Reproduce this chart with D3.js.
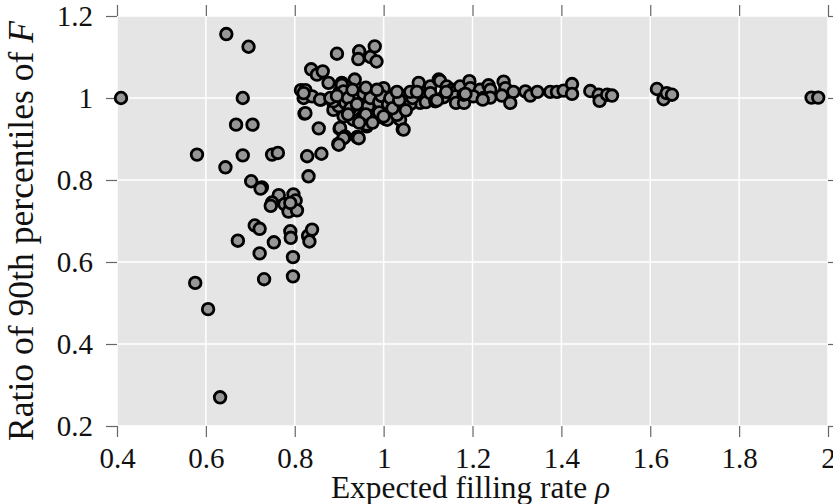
<!DOCTYPE html>
<html>
<head>
<meta charset="utf-8">
<script src="https://cdn.jsdelivr.net/npm/d3@7"></script>
<style>
  body { margin: 0; background: #fff; }
  svg { display: block; }
  text { font-family: "Liberation Serif", "DejaVu Serif", serif; fill: #111; }
</style>
</head>
<body>
<svg id="chart"></svg>
<script>
// expected filling rate rho vs ratio of 90th percentiles of F
const samples = [
  [0.409, 1.000], [0.646, 1.156], [0.696, 1.125], [0.683, 1.000], [0.668, 0.935],
  [0.705, 0.935], [0.580, 0.862], [0.683, 0.860], [0.644, 0.831], [0.749, 0.862],
  [0.762, 0.866], [0.702, 0.797], [0.726, 0.782], [0.723, 0.779], [0.764, 0.763],
  [0.797, 0.765], [0.749, 0.745], [0.746, 0.737], [0.777, 0.741], [0.802, 0.750],
  [0.786, 0.723], [0.805, 0.726], [0.790, 0.744], [0.710, 0.689], [0.721, 0.681],
  [0.672, 0.652], [0.753, 0.648], [0.790, 0.675], [0.791, 0.659], [0.830, 0.664],
  [0.839, 0.679], [0.833, 0.650], [0.721, 0.621], [0.796, 0.612], [0.731, 0.558],
  [0.796, 0.565], [0.576, 0.549], [0.605, 0.485], [0.632, 0.270], [0.828, 0.858],
  [0.860, 0.864], [0.831, 0.809], [0.822, 0.962], [0.854, 0.926], [0.895, 1.108],
  [0.945, 1.114], [0.943, 1.095], [0.970, 1.100], [0.980, 1.126], [0.984, 1.089],
  [0.837, 1.070], [0.850, 1.057], [0.863, 1.065], [0.876, 1.037], [0.814, 1.019],
  [0.824, 1.019], [0.820, 1.000], [0.839, 1.004], [0.859, 0.996], [0.935, 1.045],
  [0.906, 1.037], [0.902, 1.016], [0.917, 1.027], [0.898, 0.888], [0.910, 0.905],
  [0.941, 0.905], [0.901, 0.925], [1.043, 0.924],
  // dense core around rho = 1
  [0.887, 0.988], [0.910, 0.988], [0.932, 0.996], [0.951, 0.996], [0.977, 1.012],
  [0.977, 0.988], [1.000, 0.971], [1.026, 0.988], [1.053, 0.996], [1.075, 1.016],
  [1.082, 0.988], [1.105, 1.012], [1.116, 0.992], [0.910, 0.955], [0.932, 0.947],
  [0.955, 0.963], [0.981, 0.951], [1.004, 0.949], [1.026, 0.962], [1.037, 0.947],
  [0.902, 0.927], [0.913, 0.906], [0.941, 0.904], [0.962, 0.931], [0.887, 0.971],
  [0.899, 0.980], [0.820, 1.012], [0.857, 0.996], [0.887, 0.992], [0.906, 1.032],
  [0.910, 1.016], [0.914, 0.988], [0.936, 0.996], [0.932, 0.971], [0.962, 0.935],
  [0.977, 0.984], [0.981, 0.955], [1.000, 1.024], [1.008, 0.947], [1.030, 0.959],
  [1.045, 1.004], [1.045, 0.923], [0.910, 0.902], [0.899, 0.886], [0.944, 0.902],
  [0.824, 0.963], [0.880, 1.000], [0.895, 1.005], [0.920, 1.000], [0.925, 0.975],
  [0.940, 0.985], [0.955, 1.010], [0.965, 0.980], [0.970, 1.000], [0.990, 0.990],
  [0.995, 1.005], [1.010, 0.985], [1.015, 1.000], [1.020, 0.975], [1.035, 0.995],
  [1.060, 0.985], [1.065, 1.000], [1.090, 1.005], [1.095, 0.990], [0.960, 0.960],
  [0.990, 0.965], [0.920, 0.960], [0.945, 0.940], [0.975, 0.940], [1.000, 0.955],
  [1.050, 0.970], [0.930, 1.020], [0.960, 1.025], [0.985, 1.020], [1.030, 1.015],
  [1.060, 1.015],
  // band to the right
  [1.079, 1.037], [1.105, 1.028], [1.124, 1.045], [1.127, 1.042], [1.142, 1.028],
  [1.154, 1.020], [1.165, 1.020], [1.172, 1.028], [1.193, 1.041], [1.195, 1.024],
  [1.217, 1.020], [1.236, 1.031], [1.240, 1.020], [1.270, 1.040], [1.274, 1.024],
  [1.292, 1.015], [1.319, 1.016], [1.330, 1.006], [1.346, 1.015], [1.375, 1.015],
  [1.390, 1.015], [1.405, 1.018], [1.424, 1.034], [1.424, 1.010], [1.465, 1.017],
  [1.484, 1.008], [1.486, 0.993], [1.503, 1.008], [1.514, 1.006], [1.105, 1.012],
  [1.116, 0.993], [1.135, 1.002], [1.161, 1.004], [1.163, 0.988], [1.181, 0.988],
  [1.180, 1.008], [1.202, 1.004], [1.225, 1.000], [1.240, 1.001], [1.266, 1.006],
  [1.285, 0.988], [1.120, 0.994], [1.075, 1.015], [1.184, 1.010], [1.223, 0.996],
  [1.141, 1.015],
  [1.615, 1.022], [1.630, 0.997], [1.637, 1.012], [1.649, 1.008],
  [1.963, 1.001], [1.978, 1.001]
];

const xTicks = [0.4, 0.6, 0.8, 1.0, 1.2, 1.4, 1.6, 1.8, 2.0];
const yTicks = [0.2, 0.4, 0.6, 0.8, 1.0, 1.2];
const xLabel = ['Expected filling rate ', 'ρ'];
const yLabel = ['Ratio of 90th percentiles of ', 'F'];

const W = 833, H = 504;
const margin = { top: 16, right: 5, bottom: 78, left: 117 };
const width = W - margin.left - margin.right;
const height = H - margin.top - margin.bottom;
const serif = '"Liberation Serif", "DejaVu Serif", serif';

const svg = d3.select('#chart').attr('width', W).attr('height', H);
const g = svg.append('g').attr('transform', `translate(${margin.left},${margin.top})`);

const x = d3.scaleLinear().domain([0.4, 2.0]).range([0, width]);
const y = d3.scaleLinear().domain([0.2, 1.2]).range([height, 0]);
const fmt = d => String(+d.toFixed(1));

// panel background
g.append('rect').attr('width', width).attr('height', height).attr('fill', '#e5e5e5');

// grid
g.append('g').selectAll('line').data(xTicks).join('line')
  .attr('x1', d => x(d)).attr('x2', d => x(d)).attr('y1', 0).attr('y2', height)
  .attr('stroke', '#fff').attr('stroke-width', 1.5);
g.append('g').selectAll('line').data(yTicks).join('line')
  .attr('y1', d => y(d)).attr('y2', d => y(d)).attr('x1', 0).attr('x2', width)
  .attr('stroke', '#fff').attr('stroke-width', 1.5);

// axes: outward ticks on all four sides, labels on left and bottom
function styleAxis(sel) {
  sel.attr('font-family', null).attr('font-size', null);
  sel.select('.domain').remove();
  sel.selectAll('.tick line').attr('stroke', '#666').attr('stroke-width', 1.2);
  sel.selectAll('.tick text')
    .style('font-family', serif)
    .style('font-size', '29px')
    .attr('fill', '#111');
}
g.append('g').attr('transform', `translate(0,${height})`)
  .call(d3.axisBottom(x).tickValues(xTicks).tickFormat(fmt).tickSize(11).tickPadding(10))
  .call(styleAxis);
g.append('g')
  .call(d3.axisLeft(y).tickValues(yTicks).tickFormat(fmt).tickSize(11).tickPadding(13))
  .call(styleAxis);
g.append('g')
  .call(d3.axisTop(x).tickValues(xTicks).tickFormat('').tickSize(11))
  .call(styleAxis);
g.append('g').attr('transform', `translate(${width},0)`)
  .call(d3.axisRight(y).tickValues(yTicks).tickFormat('').tickSize(11))
  .call(styleAxis);

// points
g.append('g').selectAll('circle').data(samples).join('circle')
  .attr('cx', d => x(d[0])).attr('cy', d => y(d[1]))
  .attr('r', 5.8)
  .attr('fill', '#969696').attr('stroke', '#000').attr('stroke-width', 2.8);

// axis titles
const xt = svg.append('text')
  .attr('x', margin.left + width / 2 - 2).attr('y', 498)
  .attr('text-anchor', 'middle').style('font-size', '27px');
xt.append('tspan').text(xLabel[0]);
xt.append('tspan').style('font-style', 'italic').text(xLabel[1]);

const yt = svg.append('text')
  .attr('transform', `translate(33,${margin.top + height / 2 + 10}) rotate(-90)`)
  .attr('text-anchor', 'middle').style('font-size', '29px');
yt.append('tspan').text(yLabel[0]);
yt.append('tspan').style('font-style', 'italic').text(yLabel[1]);

// stretch titles to the span they take in the figure
[[xt, 279], [yt, 420]].forEach(([t, target]) => {
  const len = t.node().getComputedTextLength();
  const fs = parseFloat(t.style('font-size'));
  t.style('font-size', (fs * target / len).toFixed(1) + 'px');
});
</script>
</body>
</html>
